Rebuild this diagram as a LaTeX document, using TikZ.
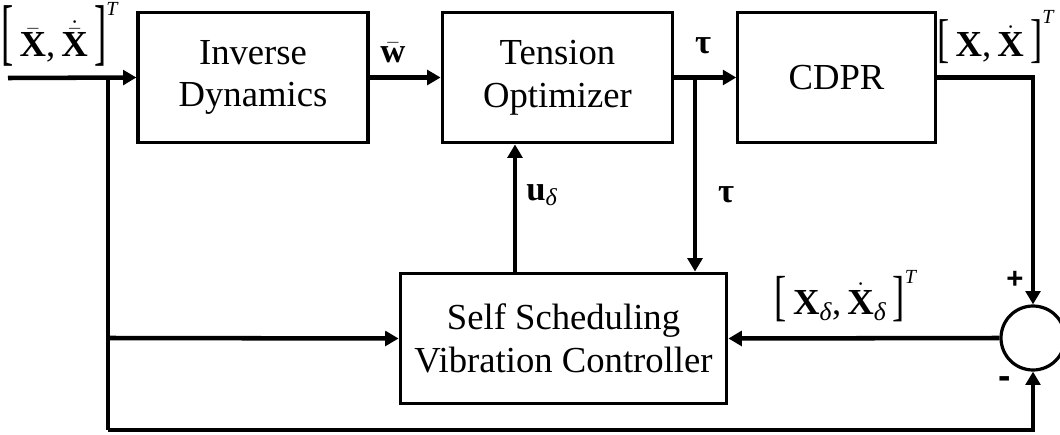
\documentclass[tikz,border=0pt]{standalone}
\usepackage{amsmath}
\usepackage{graphicx}
\usepackage{fontspec}
\setmainfont{Liberation Serif}
\newfontfamily\signfont{Liberation Sans}
\usetikzlibrary{arrows.meta}
\newcommand{\brl}[1]{\scalebox{1}[#1]{[}}
\newcommand{\brr}[2]{\scalebox{1}[#1]{]}\raisebox{#2}{\fontsize{15}{15}\selectfont\textit{T}}}
\tikzset{
  blk/.style={draw, line width=2.4pt, align=center, inner sep=0pt,
    font=\fontsize{27.5}{32}\selectfont},
  conn/.style={line width=3.4pt},
  sig/.style={conn, -{Triangle[length=10pt,width=11pt]}},
  lbl/.style={inner sep=0pt, font=\fontsize{27.5}{30}\selectfont},
  sml/.style={inner sep=0pt, font=\fontsize{26}{28}\selectfont},
  sgn/.style={inner sep=0pt, font=\fontsize{22}{24}\selectfont\signfont\bfseries}
}
\begin{document}
\begin{tikzpicture}[x=0.75pt,y=-0.75pt]
\useasboundingbox (0,0) rectangle (1060,435);
% blocks
\node[blk, minimum width=172.5pt, minimum height=98pt] (id) at (253,77.5) {Inverse\\Dynamics};
\node[blk, minimum width=173pt, minimum height=98pt] (to) at (557.5,77.5) {Tension\\Optimizer};
\node[blk, minimum width=148pt, minimum height=98pt] (cdpr) at (836.5,77.5) {CDPR};
\node[blk, minimum width=245pt, minimum height=98pt] (ssv) at (563.5,338.5) {Self Scheduling\\Vibration Controller};
\node[draw, circle, line width=2.4pt, minimum size=48pt, inner sep=0pt] (sum) at (1033,338) {};
% coordinates
\coordinate (in) at (8,78);
\coordinate (b1) at (108,78);
\coordinate (b1m) at (108,338);
\coordinate (b1b) at (108,430);
\coordinate (b2) at (695,78);
\coordinate (ux) at (515,0);
% connectors
\draw[sig] (in) -- (id.west);
\draw[sig] (id.east) -- (to.west);
\draw[sig] (to.east) -- (cdpr.west);
\draw[conn] (b1) -- (b1b);
\draw[sig] (b1m) -- (ssv.west);
\draw[sig] (b1b) -| (sum.south);
\draw[sig] (b2) -- (b2 |- ssv.north);
\draw[sig] (ssv.north -| ux) -- (to.south -| ux);
\draw[sig] (cdpr.east) -| (sum.north);
\draw[sig] (sum.west) -- (ssv.east);
% labels
\node[lbl, anchor=base] (l1) at (60,57) {\brl{2.0}\,$\bar{\textbf{X}}$,\,$\dot{\bar{\textbf{X}}}$\,\brr{2.0}{31pt}};
\node[sml] (l2) at (393,53) {$\bar{\textbf{w}}$};
\node[sml] (l3) at (703,46) {\textbf{τ}};
\node[lbl, anchor=base] (l4) at (996,57) {\brl{1.45}\,\textbf{X},\,$\dot{\textbf{X}}$\,\brr{1.45}{25pt}};
\node[sml] (l5) at (726,195) {\textbf{τ}};
\node[sml] (l6) at (542,195) {\textbf{u}$_{\textit{δ}}$};
\node[lbl, anchor=base] (l7) at (846,314) {\brl{1.5}\,$\textbf{X}_{\textit{δ}}$,\,$\dot{\textbf{X}}_{\textit{δ}}$\,\brr{1.5}{23pt}};
\node[sgn] (pl) at (1015,280) {+};
\node[sgn, font=\fontsize{28}{30}\selectfont\signfont\bfseries] (mi) at (1005,383) {-};
\end{tikzpicture}
\end{document}
